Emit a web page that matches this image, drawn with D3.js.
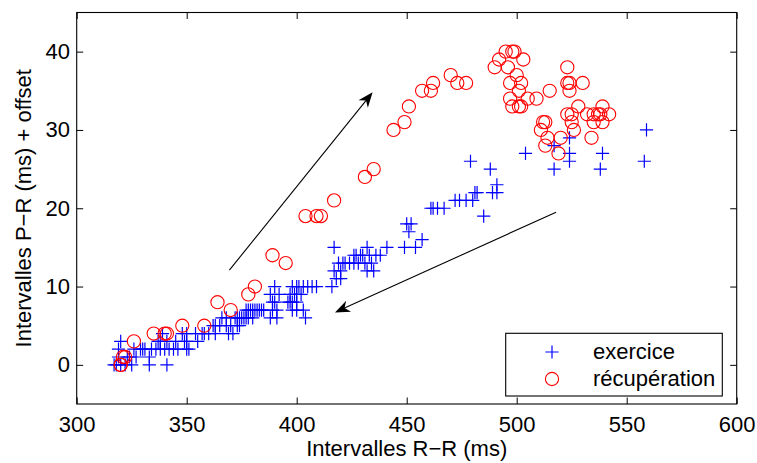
<!DOCTYPE html>
<html><head><meta charset="utf-8">
<script src="https://cdn.jsdelivr.net/npm/d3@7"></script>
<style>
body{margin:0;background:#fff}
text{font-family:"Liberation Sans",Arial,Helvetica,sans-serif;fill:#000}
</style>
</head><body>
<svg id="chart" width="757" height="463"></svg>
<script>
// ---- data ----
const exerciceX = [317,318,320,322,325,333,341,319,323,324,327,333,330,320,319,326,329,331,334,336,338,340,342,351,350,
  337,338,341,349,350,339,350,354,357,358,363,369,371,362,363,368,370,373,375,374,377,380,366,368,383,377,378,380,376,382,
  389,388,389,390,391,391,392,388,390,397,398,400,397,399,400,403,405,407,409,398,400,400,403,404,
  416,417,418,420,419,421,424,426,426,427,429,430,431,432,433,435,436,438,417,432,441,449,454,457,450,452,451,
  461,462,464,467,472,474,477,480,481,482,485,479,488,489,491,491,504,517,517,524,524,524,538,539,558,559,
  372,373,378,379,381,384,385,374,365,360,355,345,346,344,348,398,401,396,402,420,422,428,434];
const exerciceY = [0,0,0,0,0,0,0,1,1,1,1,1,2,3,2,2,2,2,2,2,2,2,2,2,2,
  3,3,3,3,3,4,4,4,4,4,4,4,4,5,5,5,5,5,6,6,6,6,6,6,7,7,7,7,6,7,
  8,6,7,8,7,6,9,9,10,8,8,9,9,9,10,10,10,10,10,7,8,7,7,6,
  10,12,11,11,13,13,13,14,13,14,14,14,13,12,14,12,14,14,15,15,15,15,15,16,18,18,17,
  20,20,20,20,21,21,21,21,22,22,19,26,25,22,22,23,27,25,28,26,27,29,25,27,26,30,
  6,6,6,7,7,7,7,5,5,4,3,3,2,2,4,10,10,8,9,12,13,13,13];
const recupX = [320,320,321,322,326,335,340,341,348,358,364,370,378,381,389,395,404,409,411,417,431,435,
  444,449,451,457,461,462,470,473,477,490,492,495,498,499,503,496,500,497,502,501,497,498,501,502,505,509,515,
  523,523,524,524,530,528,525,532,535,537,538,539,542,512,513,511,525,526,514,513,519,520,534,535,539,523];
const recupY = [0,0,1,1,3,4,4,4,5,5,8,7,9,10,14,13,19,19,19,21,24,25,
  30,31,33,35,35,36,37,36,36,38,39,40,40,40,39,38,37,36,36,35,34,33,33,33,34,34,35,
  38,36,36,35,36,33,32,32,32,32,32,33,32,31,31,30,31,30,29,28,27,29,29,31,31,32];
const xTicks = [300,350,400,450,500,550,600];
const yTicks = [0,10,20,30,40];
const arrowFrom = [[369.4,12.1],[517.9,19.5]];
const arrowTo   = [[434.5,34.8],[417.4,6.7]];
const legendLabels = ["exercice","récupération"];

// ---- layout ----
const L = 76.7, R = 736.7, T = 12.5, B = 404;
const FS = 22;
const svg = d3.select("#chart");
svg.append("rect").attr("width",757).attr("height",463).attr("fill","#fff");

const x = d3.scaleLinear().domain([300,600]).range([L,R]);
const y = d3.scaleLinear().domain([-5,45]).range([B,T]);

function styleAxis(g){
  g.select(".domain").remove();
  g.selectAll(".tick line").attr("stroke","#000").attr("stroke-width",1);
  g.selectAll("text").attr("font-size",FS).attr("font-family","Liberation Sans, Arial, sans-serif").attr("fill","#000");
}
svg.append("g").attr("transform",`translate(0,${B})`)
  .call(d3.axisBottom(x).tickValues(xTicks).tickSizeInner(-6.5).tickSizeOuter(0).tickPadding(12).tickFormat(d3.format("d")))
  .call(styleAxis);
svg.append("g").attr("transform",`translate(0,${T})`)
  .call(d3.axisTop(x).tickValues(xTicks).tickSizeInner(-6.5).tickSizeOuter(0).tickFormat(""))
  .call(styleAxis);
svg.append("g").attr("transform",`translate(${L},0)`)
  .call(d3.axisLeft(y).tickValues(yTicks).tickSizeInner(-6.5).tickSizeOuter(0).tickPadding(6.7).tickFormat(d3.format("d")))
  .call(styleAxis);
svg.append("g").attr("transform",`translate(${R},0)`)
  .call(d3.axisRight(y).tickValues(yTicks).tickSizeInner(-6.5).tickSizeOuter(0).tickFormat(""))
  .call(styleAxis);

svg.append("rect").attr("x",L).attr("y",T).attr("width",R-L).attr("height",B-T)
  .attr("fill","none").attr("stroke","#000").attr("stroke-width",1.1);

// ---- marks ----
const plusPath = (cx,cy,s) => `M${cx-s},${cy}H${cx+s}M${cx},${cy-s}V${cy+s}`;
const exData = exerciceX.map((v,i)=>({x:v,y:exerciceY[i]}));
const reData = recupX.map((v,i)=>({x:v,y:recupY[i]}));

svg.append("g").selectAll("path").data(exData).join("path")
  .attr("d",d=>plusPath(x(d.x),y(d.y),6.6))
  .attr("stroke","#0000ff").attr("stroke-width",1.2).attr("fill","none");

svg.append("g").selectAll("circle").data(reData).join("circle")
  .attr("cx",d=>x(d.x)).attr("cy",d=>y(d.y)).attr("r",6.6)
  .attr("stroke","#ff0000").attr("stroke-width",1.1).attr("fill","none");

// ---- arrows ----
const ag = svg.append("g");
arrowFrom.forEach((f,i)=>{
  const t = arrowTo[i];
  const x1=x(f[0]), y1=y(f[1]), x2=x(t[0]), y2=y(t[1]);
  const dx=x1-x2, dy=y1-y2, len=Math.hypot(dx,dy);
  const ux=dx/len, uy=dy/len, nx=-uy, ny=ux;
  const HL=15, HW=6;
  ag.append("line").attr("x1",x1).attr("y1",y1).attr("x2",x2+ux*8).attr("y2",y2+uy*8)
    .attr("stroke","#000").attr("stroke-width",1.1);
  const p = [[x2,y2],[x2+ux*HL+nx*HW,y2+uy*HL+ny*HW],[x2+ux*HL*0.7,y2+uy*HL*0.7],[x2+ux*HL-nx*HW,y2+uy*HL-ny*HW]];
  ag.append("path").attr("d","M"+p.map(q=>q.join(",")).join("L")+"Z").attr("fill","#000");
});

// ---- labels ----
svg.append("text").attr("x",(L+R)/2).attr("y",456).attr("text-anchor","middle")
  .attr("font-size",FS).text("Intervalles R−R (ms)");
svg.append("text").attr("transform",`translate(31,${(T+B)/2}) rotate(-90)`).attr("text-anchor","middle")
  .attr("font-size",FS).text("Intervalles P−R (ms) + offset");

// ---- legend ----
const lg = svg.append("g");
lg.append("rect").attr("x",505.7).attr("y",333.3).attr("width",216.6).attr("height",62.7)
  .attr("fill","#fff").attr("stroke","#000").attr("stroke-width",1.1);
lg.append("path").attr("d",plusPath(552,352,6.6)).attr("stroke","#0000ff").attr("stroke-width",1.2);
lg.append("circle").attr("cx",552).attr("cy",379).attr("r",6.6).attr("fill","none")
  .attr("stroke","#ff0000").attr("stroke-width",1.1);
lg.selectAll("text.leg").data(legendLabels).join("text").attr("class","leg")
  .attr("x",593).attr("y",(d,i)=>358.5+i*27.5).attr("font-size",FS).text(d=>d);
</script>
</body></html>
